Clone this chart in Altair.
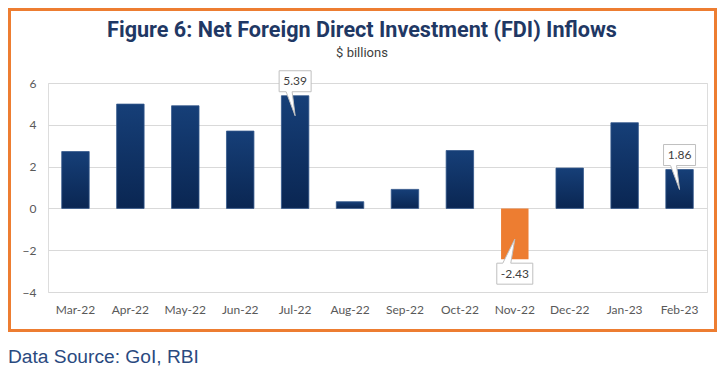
import altair as alt
import pandas as pd

# ---- data ----
months = ["Mar-22", "Apr-22", "May-22", "Jun-22", "Jul-22", "Aug-22",
          "Sep-22", "Oct-22", "Nov-22", "Dec-22", "Jan-23", "Feb-23"]
values = [2.72, 4.99, 4.91, 3.70, 5.39, 0.32, 0.91, 2.77, -2.43, 1.93, 4.10, 1.86]
labelled_months = ["Jul-22", "Nov-22", "Feb-23"]
y_ticks = [-4, -2, 0, 2, 4, 6]
title_text = "Figure 6: Net Foreign Direct Investment (FDI) Inflows"
subtitle_text = "$ billions"
source_text = "Data Source: GoI, RBI"

df = pd.DataFrame({
    "month": months,
    "value": values,
    "label": [f"{v:.2f}" if m in labelled_months else "" for m, v in zip(months, values)],
})

W, H = 659, 209
PAD = {"left": 40, "top": 75, "right": 10, "bottom": 80}

axis_font = "Lato"
label_color = "#595959"

base = alt.Chart(df).encode(
    x=alt.X("month:N", sort=months, title=None,
            scale=alt.Scale(paddingInner=0.5, paddingOuter=0.25),
            axis=alt.Axis(labelAngle=0, ticks=False, domain=False, grid=False,
                          labelPadding=12, labelFont=axis_font, labelFontSize=12,
                          labelColor=label_color)),
    y=alt.Y("value:Q", title=None,
            scale=alt.Scale(domain=[-4, 6], nice=False, zero=False),
            axis=alt.Axis(values=y_ticks, ticks=False, domain=False, grid=True,
                          gridColor="#d9d9d9", gridWidth=1, labelPadding=12,
                          labelFont=axis_font, labelFontSize=12, labelColor=label_color)),
)

gradient = alt.LinearGradient(
    gradient="linear",
    stops=[alt.GradientStop(offset=0, color="#163f78"),
           alt.GradientStop(offset=1, color="#0a2652")],
    x1=0, x2=0, y1=0, y2=1,
)

bars_pos = base.transform_filter("datum.value >= 0").mark_bar(
    color=gradient, stroke="#34588c", strokeWidth=0.8)
bars_neg = base.transform_filter("datum.value < 0").mark_bar(
    color="#ED7D31")

# callout shapes (path coords in px because size=4 -> scale 1)
path_down = "M-16,-25L16,-25L16,-4L-3,-4L0,20L-9,-4L-16,-4Z"
path_up = "M-18,4L-12,4L0,-20L-4,4L18,4L18,25L-18,25Z"

call_style = dict(size=4, filled=True, fill="white", stroke="#bfbfbf",
                  strokeWidth=1, opacity=1)

callout_down = base.transform_filter("datum.label != '' && datum.value >= 0").mark_point(
    shape=path_down, **call_style)
callout_up = base.transform_filter("datum.label != '' && datum.value < 0").mark_point(
    shape=path_up, **call_style)

text_down = base.transform_filter("datum.label != '' && datum.value >= 0").mark_text(
    dy=-14.5, font=axis_font, fontSize=12, color="#404040").encode(text="label:N")
text_up = base.transform_filter("datum.label != '' && datum.value < 0").mark_text(
    dy=14.5, font=axis_font, fontSize=12, color="#404040").encode(text="label:N")

border = alt.Chart(pd.DataFrame({"b": [0]})).mark_rect(
    fillOpacity=0, stroke="#ED7D31", strokeWidth=3).encode(
    x=alt.value(-38.5), x2=alt.value(667.5), y=alt.value(-73.5), y2=alt.value(247.5))

title_mark = alt.Chart(pd.DataFrame({"t": [title_text]})).mark_text(
    align="center", baseline="alphabetic", font="Roboto", fontSize=21.6,
    fontWeight="bold", color="#1f3864").encode(
    x=alt.value(314), y=alt.value(-46), text="t:N")

subtitle_mark = alt.Chart(pd.DataFrame({"t": [subtitle_text]})).mark_text(
    align="center", baseline="alphabetic", font="Roboto", fontSize=13,
    color="#404040").encode(
    x=alt.value(314), y=alt.value(-26), text="t:N")

source = alt.Chart(pd.DataFrame({"t": [source_text]})).mark_text(
    align="left", baseline="alphabetic", font="Liberation Sans", fontSize=19.2,
    color="#2a4a7f").encode(x=alt.value(-40), y=alt.value(280), text="t:N")

chart = alt.layer(
    border, bars_pos, bars_neg, callout_down, callout_up, text_down, text_up,
    title_mark, subtitle_mark, source
).properties(
    width=W, height=H,
    autosize=alt.AutoSizeParams(type="none"),
    padding=PAD,
).configure_view(stroke=None).configure(background="white")

chart.save("out.html", embed_options={"renderer": "svg", "actions": False})
